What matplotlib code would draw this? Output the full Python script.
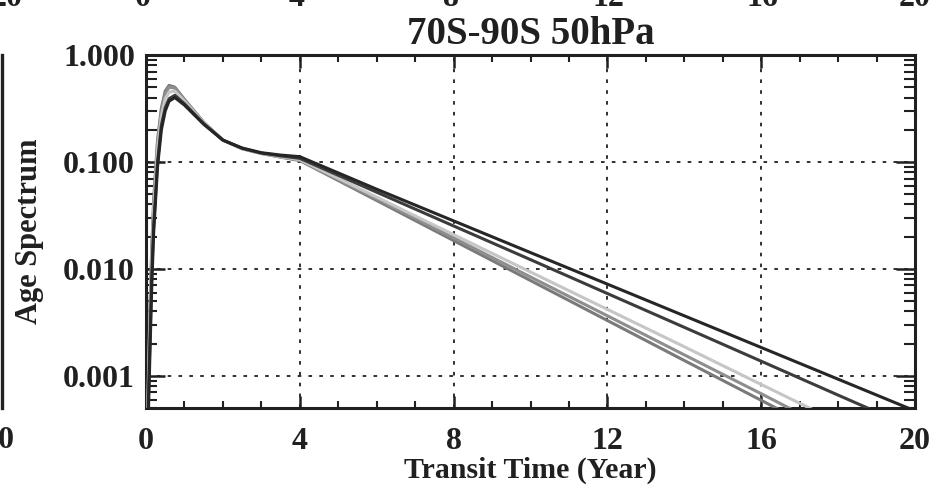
import matplotlib
matplotlib.use("Agg")
import matplotlib.pyplot as plt
from matplotlib.lines import Line2D
from matplotlib.ticker import FixedLocator, FuncFormatter, MultipleLocator, LogLocator

# --- data ---
transit_time = [0.0, 0.05, 0.1, 0.15, 0.2, 0.3, 0.4, 0.5, 0.6, 0.75, 1.0, 1.5, 2.0,
                2.5, 3.0, 3.5, 4.0, 6.0, 8.0, 10.0, 12.0, 14.0, 16.0, 18.0, 20.0]

spec_a = [1e-5, 3e-4, 1.5e-3, 7e-3, 0.022, 0.09, 0.20, 0.30, 0.37, 0.40, 0.34, 0.225, 0.16,
          0.135, 0.122, 0.116, 0.112, 0.0556, 0.0281, 0.0142, 0.0072, 0.00364, 0.00184, 0.00093, 0.00047]
spec_b = [1e-5, 4e-4, 2e-3, 9e-3, 0.026, 0.10, 0.22, 0.32, 0.39, 0.42, 0.35, 0.228, 0.16,
          0.134, 0.121, 0.114, 0.108, 0.0521, 0.0252, 0.0122, 0.00588, 0.00284, 0.00137, 0.00066, 0.00032]
spec_c = [1e-5, 5e-4, 3e-3, 0.012, 0.035, 0.13, 0.27, 0.39, 0.45, 0.46, 0.37, 0.232, 0.16,
          0.133, 0.120, 0.112, 0.105, 0.0469, 0.0209, 0.00935, 0.00418, 0.00187, 0.00083, 0.00037, 0.00017]
spec_d = [1e-5, 6e-4, 3.5e-3, 0.014, 0.040, 0.15, 0.30, 0.43, 0.50, 0.49, 0.38, 0.234, 0.16,
          0.133, 0.120, 0.111, 0.104, 0.0450, 0.0195, 0.0084, 0.00364, 0.00157, 0.00068, 0.00029, 0.00013]
spec_e = [1e-5, 7e-4, 4e-3, 0.016, 0.045, 0.16, 0.32, 0.46, 0.52, 0.50, 0.385, 0.235, 0.16,
          0.133, 0.120, 0.111, 0.103, 0.0436, 0.0184, 0.00778, 0.00329, 0.00139, 0.00059, 0.00025, 0.00011]

x_ticks = [0, 4, 8, 12, 16, 20]
y_ticks = [0.001, 0.01, 0.1, 1.0]

FONT = "Liberation Serif"
INK = "#202020"

fig = plt.figure(figsize=(9.44, 4.91), dpi=100)
ax = fig.add_axes([146 / 944, 83 / 491, 769 / 944, 353 / 491])

# gray curves first, dark ones on top in the tail
series = [
    (spec_e, "#7a7a7a"),
    (spec_d, "#8e8e8e"),
    (spec_c, "#c6c6c6"),
    (spec_b, "#3c3c3c"),
    (spec_a, "#262626"),
]
for vals, col in series:
    ax.plot(transit_time, vals, color=col, lw=2.2, solid_capstyle="round", zorder=3)

ax.set_yscale("log")
ax.set_xlim(0, 20)
ax.set_ylim(0.0005, 1.0)

ax.xaxis.set_major_locator(FixedLocator(x_ticks))
ax.xaxis.set_minor_locator(MultipleLocator(1))
ax.yaxis.set_major_locator(FixedLocator(y_ticks))
ax.yaxis.set_minor_locator(LogLocator(base=10, subs=range(2, 10)))
ax.yaxis.set_major_formatter(FuncFormatter(lambda v, p: "%.3f" % v))
ax.yaxis.set_minor_formatter(FuncFormatter(lambda v, p: ""))

ax.tick_params(which="both", direction="in", top=True, right=True, color=INK)
ax.tick_params(axis="x", which="major", length=9, width=1.8, pad=14)
ax.tick_params(axis="x", which="minor", length=5, width=1.5)
ax.tick_params(axis="y", which="major", length=14, width=1.8, pad=8)
ax.tick_params(axis="y", which="minor", length=8, width=1.5)

for lab in ax.get_xticklabels() + ax.get_yticklabels():
    lab.set_fontfamily(FONT)
    lab.set_fontweight("bold")
    lab.set_fontsize(23)
    lab.set_color(INK)

for sp in ax.spines.values():
    sp.set_linewidth(2.2)
    sp.set_color(INK)

# dotted grid only on interior major ticks
for xv in x_ticks[1:-1]:
    ax.axvline(xv, color=INK, lw=1.3, ls=(0, (2, 4)), zorder=1)
for yv in y_ticks[:-1]:
    ax.axhline(yv, color=INK, lw=1.3, ls=(0, (2, 4)), zorder=1)

ax.set_title("70S-90S 50hPa", fontfamily=FONT, fontweight="bold", fontsize=28,
             color=INK, pad=8)
ax.set_xlabel("Transit Time (Year)", fontfamily=FONT, fontweight="bold", fontsize=21.5,
              color=INK, labelpad=0)
ax.set_ylabel("Age Spectrum", fontfamily=FONT, fontweight="bold", fontsize=22,
              color=INK, labelpad=14)

# edges of the neighbouring panels cut off by the scan
fig.add_artist(Line2D([2 / 944, 2 / 944], [83 / 491, 436 / 491], color=INK, lw=2.4))
fig.text(-1 / 944, 1 - 448 / 491, "20", ha="center", va="baseline", fontfamily=FONT,
         fontweight="bold", fontsize=23, color=INK)
for xpos, lab in zip([7, 143, 297, 451, 608, 762, 915], ["20", "0", "4", "8", "12", "16", "20"]):
    fig.text(xpos / 944, 1 - 6 / 491, lab, ha="center", va="baseline", fontfamily=FONT,
             fontweight="bold", fontsize=23, color=INK)

fig.savefig("out.png", dpi=100)
